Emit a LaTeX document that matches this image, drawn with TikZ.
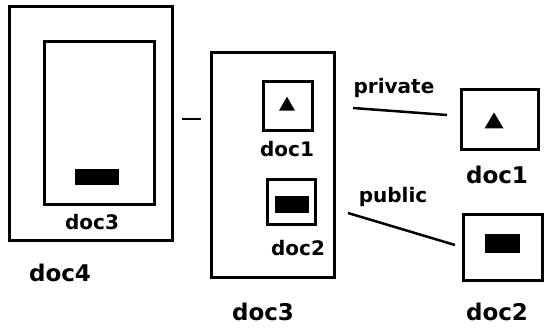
\documentclass[tikz,border=0pt]{standalone}
\usepackage{fontspec}
\setmainfont{DejaVu Sans}
\usetikzlibrary{shapes.geometric}
\begin{document}
\begin{tikzpicture}[x=1pt,y=-1pt,
  frame/.style={draw=black,line width=3pt,rectangle,inner sep=0pt},
  blk/.style={fill=black,rectangle,inner sep=0pt},
  tri/.style={fill=black,isosceles triangle,isosceles triangle apex angle=60,isosceles triangle stretches,shape border rotate=90,inner sep=0pt},
  lblS/.style={font=\bfseries\fontsize{20}{20}\selectfont,inner sep=0pt},
  lblB/.style={font=\bfseries\fontsize{23}{23}\selectfont,inner sep=0pt},
  conn/.style={line width=2.5pt}]
\useasboundingbox[fill=white] (0,0) rectangle (545,328);
% doc4 group
\node[frame,minimum width=163pt,minimum height=234pt] (doc4box) at (91,123.5) {};
\node[frame,minimum width=110pt,minimum height=163pt] (doc3inbox) at (99.5,123) {};
\node[blk,minimum width=44pt,minimum height=16pt] (doc3inblk) at (97,177) {};
\node[lblS] (doc3inlbl) at (92,222) {doc3};
\node[lblB] (doc4lbl) at (60,273) {doc4};
% doc3 group
\node[frame,minimum width=123pt,minimum height=225pt] (doc3box) at (273,165) {};
\node[frame,minimum width=49pt,minimum height=49pt] (doc1inbox) at (288,106) {};
\node[tri,minimum width=16pt,minimum height=14pt] (doc1intri) at (287,106) {};
\node[lblS] (doc1inlbl) at (287,149) {doc1};
\node[frame,minimum width=48pt,minimum height=45pt] (doc2inbox) at (291.5,202) {};
\node[blk,minimum width=34pt,minimum height=17pt] (doc2inblk) at (292,204.5) {};
\node[lblS] (doc2inlbl) at (298,248) {doc2};
\node[lblB] (doc3lbl) at (263,312) {doc3};
% right
\node[frame,minimum width=77pt,minimum height=60pt] (doc1box) at (500,119.5) {};
\node[tri,minimum width=19pt,minimum height=16pt] (doc1tri) at (494,123) {};
\node[lblB] (doc1lbl) at (497,175) {doc1};
\node[frame,minimum width=79pt,minimum height=66pt] (doc2box) at (503,247.5) {};
\node[blk,minimum width=35pt,minimum height=19pt] (doc2blk) at (502.5,243.5) {};
\node[lblB] (doc2lbl) at (497,312) {doc2};
\node[lblS] (privlbl) at (394,88) {private};
\node[lblS] (publbl) at (393,197) {public};
% connectors
\coordinate (s0) at (182,119);
\coordinate (s1) at (201,119);
\draw[line width=2.5pt] (s0) -- (s1);
\coordinate (p0) at (353,108);
\coordinate (p1) at (447,115);
\draw[conn] (p0) -- (p1);
\coordinate (q0) at (348,213);
\coordinate (q1) at (455,245);
\draw[conn] (q0) -- (q1);
\end{tikzpicture}
\end{document}
